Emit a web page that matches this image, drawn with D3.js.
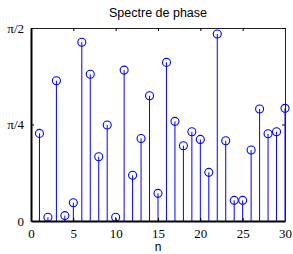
<!DOCTYPE html>
<html>
<head>
<meta charset="utf-8">
<script src="https://cdn.jsdelivr.net/npm/d3@7"></script>
<style>
body { margin: 0; background: #fff; }
</style>
</head>
<body>
<svg class="chart"></svg>
<script>
// phase values, in radians
const nValues = d3.range(1, 31);
const phaseValues = [
    0.713, 0.030, 1.142, 0.044, 0.149, 1.455, 1.194, 0.523, 0.781, 0.030,
    1.228, 0.372, 0.672, 1.019, 0.225, 1.291, 0.811, 0.613, 0.727, 0.664,
    0.396, 1.522, 0.653, 0.168, 0.168, 0.578, 0.911, 0.710, 0.727, 0.917
];
const xTicks = [0, 5, 10, 15, 20, 25, 30];
const yTicks = [0, Math.PI / 4, Math.PI / 2];
const yTickLabels = ["0", "\u03c0/4", "\u03c0/2"];

const canvas = {width: 293, height: 254};
const margin = {top: 28, bottom: 33, right: 8, left: 31};
const chart_dimensions = {
    width: canvas.width - (margin.right + margin.left),
    height: canvas.height - (margin.top + margin.bottom)
};

const data = nValues.map(function (n, i) { return {n: n, v: phaseValues[i]}; });

const x = d3.scaleLinear().domain([0, 30]).range([0, chart_dimensions.width]);
const y = d3.scaleLinear().domain([0, Math.PI / 2]).range([chart_dimensions.height, 0]);

const svg = d3.select(".chart")
    .attr("width", canvas.width)
    .attr("height", canvas.height);

const chart = svg.append("g")
    .attr("transform", "translate(" + margin.left + "," + margin.top + ")");

// stems
chart.selectAll(".stem")
    .data(data)
    .enter()
    .append("line")
    .attr("x1", d => x(d.n))
    .attr("x2", d => x(d.n))
    .attr("y1", y(0))
    .attr("y2", d => y(d.v))
    .attr("stroke", "#0000ff")
    .attr("stroke-width", 1);

chart.selectAll(".marker")
    .data(data)
    .enter()
    .append("circle")
    .attr("cx", d => x(d.n))
    .attr("cy", d => y(d.v))
    .attr("r", 4)
    .attr("fill", "none")
    .attr("stroke", "#0000ff")
    .attr("stroke-width", 1.1);

// axes, ticks pointing inside
const tickFont = "'Liberation Serif', 'DejaVu Serif', serif";

const xBottom = chart.append("g")
    .attr("transform", "translate(0," + chart_dimensions.height + ")")
    .call(d3.axisBottom(x).tickValues(xTicks).tickSizeInner(-3).tickSizeOuter(0).tickPadding(8));
const xTop = chart.append("g")
    .call(d3.axisTop(x).tickValues(xTicks).tickSizeInner(-3).tickSizeOuter(0).tickFormat(""));
const yLeft = chart.append("g")
    .call(d3.axisLeft(y).tickValues(yTicks).tickSizeInner(-3).tickSizeOuter(0).tickPadding(7)
        .tickFormat((d, i) => yTickLabels[i]));
const yRight = chart.append("g")
    .attr("transform", "translate(" + chart_dimensions.width + ",0)")
    .call(d3.axisRight(y).tickValues(yTicks).tickSizeInner(-3).tickSizeOuter(0).tickFormat(""));

[xBottom, xTop, yLeft, yRight].forEach(function (g) {
    g.selectAll("text")
        .style("font-family", tickFont)
        .style("font-size", "13px")
        .attr("fill", "#000");
    g.selectAll(".tick line").attr("stroke", "#000");
});
xTop.select(".domain").attr("stroke", "#222").attr("stroke-width", 1);
yRight.select(".domain").attr("stroke", "#222").attr("stroke-width", 1);
xBottom.select(".domain").attr("stroke", "#000").attr("stroke-width", 2);
yLeft.select(".domain").attr("stroke", "#000").attr("stroke-width", 2);

// title and label
svg.append("text")
    .attr("x", margin.left + chart_dimensions.width / 2)
    .attr("y", 17)
    .attr("text-anchor", "middle")
    .style("font-family", "'Liberation Sans', Arial, sans-serif")
    .style("font-size", "12.5px")
    .text("Spectre de phase");

svg.append("text")
    .attr("x", margin.left + chart_dimensions.width / 2)
    .attr("y", 251)
    .attr("text-anchor", "middle")
    .style("font-family", "'Liberation Sans', Arial, sans-serif")
    .style("font-size", "12px")
    .text("n");
</script>
</body>
</html>
